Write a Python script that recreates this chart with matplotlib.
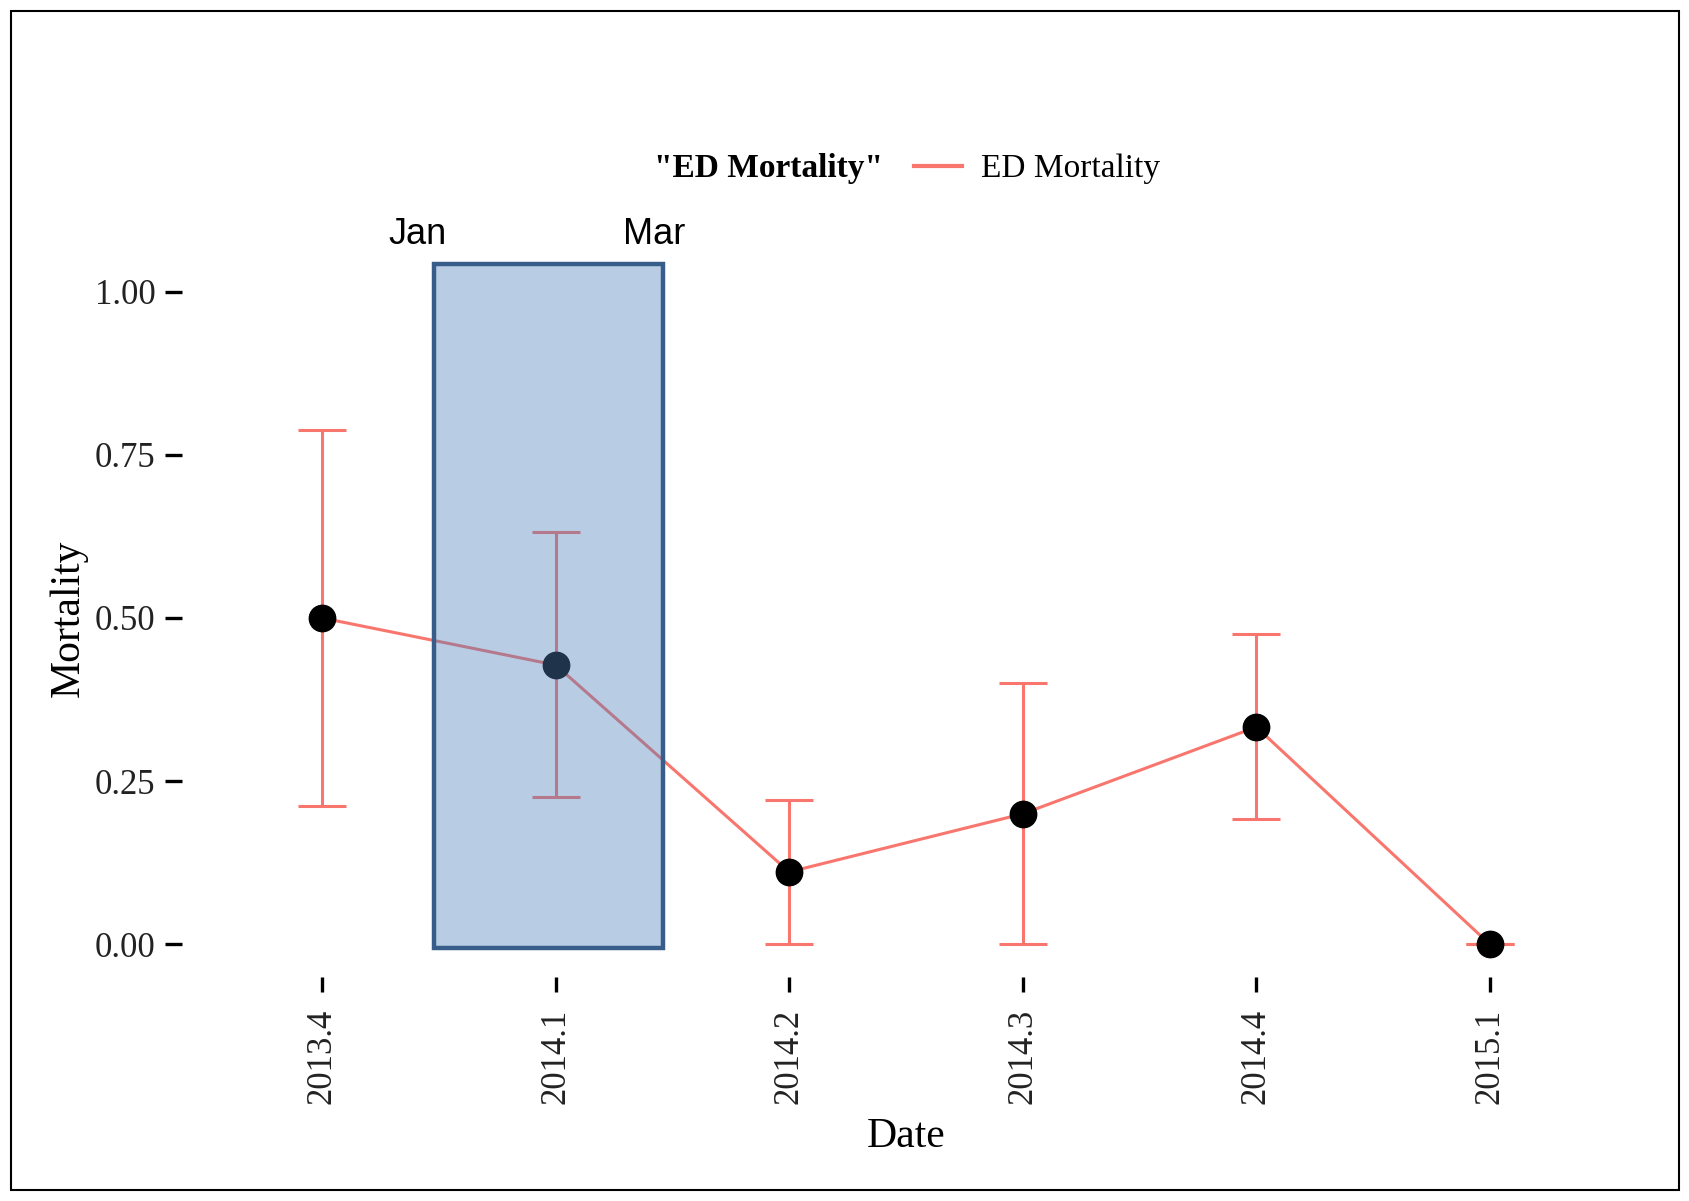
import matplotlib
matplotlib.use("Agg")
import matplotlib.pyplot as plt
from matplotlib.patches import Rectangle
import numpy as np

# ---- data ----
dates = ["2013.4", "2014.1", "2014.2", "2014.3", "2014.4", "2015.1"]
mortality = [0.50, 0.428, 0.111, 0.20, 0.333, 0.0]
ci_low = [0.212, 0.226, 0.0, 0.0, 0.192, 0.0]
ci_high = [0.788, 0.631, 0.221, 0.40, 0.476, 0.0]
y_ticks = [0.00, 0.25, 0.50, 0.75, 1.00]
y_tick_labels = ["0.00", "0.25", "0.50", "0.75", "1.00"]
series_name = "ED Mortality"
highlight_labels = ["Jan", "Mar"]

RED = "#F8766D"
SERIF = ["Liberation Serif", "DejaVu Serif"]
SANS = ["Liberation Sans", "DejaVu Sans"]

fig = plt.figure(figsize=(16.9, 12.01), dpi=100)
ax = fig.add_axes([182 / 1690, 1 - 977 / 1201, (1630 - 182) / 1690, (977 - 259) / 1201])

x = np.arange(len(dates))
y = np.array(mortality)
yerr = np.vstack([y - np.array(ci_low), np.array(ci_high) - y])

ax.errorbar(x, y, yerr=yerr, fmt="none", ecolor=RED, elinewidth=2.2,
            capsize=17, capthick=2.2, zorder=2)
ax.plot(x, y, color=RED, lw=2.2, zorder=3, label=series_name)
ax.plot(x, y, "o", color="black", markersize=19, zorder=4)

ax.set_xlim(-0.6, len(dates) - 0.4)
ax.set_ylim(-0.05, 1.05)
ax.set_xticks(x)
ax.set_xticklabels(dates, rotation=90, fontsize=25, family=SERIF, color="#222222")
ax.set_yticks(y_ticks)
ax.set_yticklabels(y_tick_labels, fontsize=25, family=SERIF, color="#222222")
ax.tick_params(axis="y", length=12, width=2.4, pad=7, color="black")
ax.tick_params(axis="x", length=11, width=2.4, pad=12, color="black")
for s in ax.spines.values():
    s.set_visible(False)

ax.set_xlabel("Date", fontsize=30, family=SERIF, va="center")
ax.xaxis.set_label_coords(0.5, -0.223)
ax.set_ylabel("Mortality", fontsize=30, family=SERIF, va="center")
ax.yaxis.set_label_coords(-0.0787, 0.5)

# highlighted quarter (overlay box)
rect = Rectangle((0.48, -0.005), 0.98, 1.048, facecolor=(79/255, 129/255, 189/255, 0.4),
                 edgecolor="#385D8A", linewidth=3.2, zorder=5, clip_on=False)
ax.add_patch(rect)
ax.text(0.41, 1.087, highlight_labels[0], fontsize=26, family=SANS, ha="center",
        va="center", clip_on=False)
ax.text(1.42, 1.087, highlight_labels[1], fontsize=26, family=SANS, ha="center",
        va="center", clip_on=False)

# legend (title to the left of the key)
fig.text(654 / 1690, 1 - 169 / 1201, '"' + series_name + '"', fontsize=24,
         family=SERIF, weight="bold", ha="left", va="center")
leg = fig.legend(loc="center left", bbox_to_anchor=(914 / 1690, 1 - 169 / 1201),
                 frameon=False, borderpad=0, borderaxespad=0, handlelength=1.45,
                 handletextpad=0.57, prop={"family": SERIF, "size": 24})
for ln in leg.get_lines():
    ln.set_linewidth(3)

# outer border
fig.patches.append(Rectangle((11 / 1690, 11 / 1201), 1668 / 1690, 1179 / 1201,
                             transform=fig.transFigure, fill=False,
                             edgecolor="black", linewidth=1.5))

fig.savefig("out.png", dpi=100)
